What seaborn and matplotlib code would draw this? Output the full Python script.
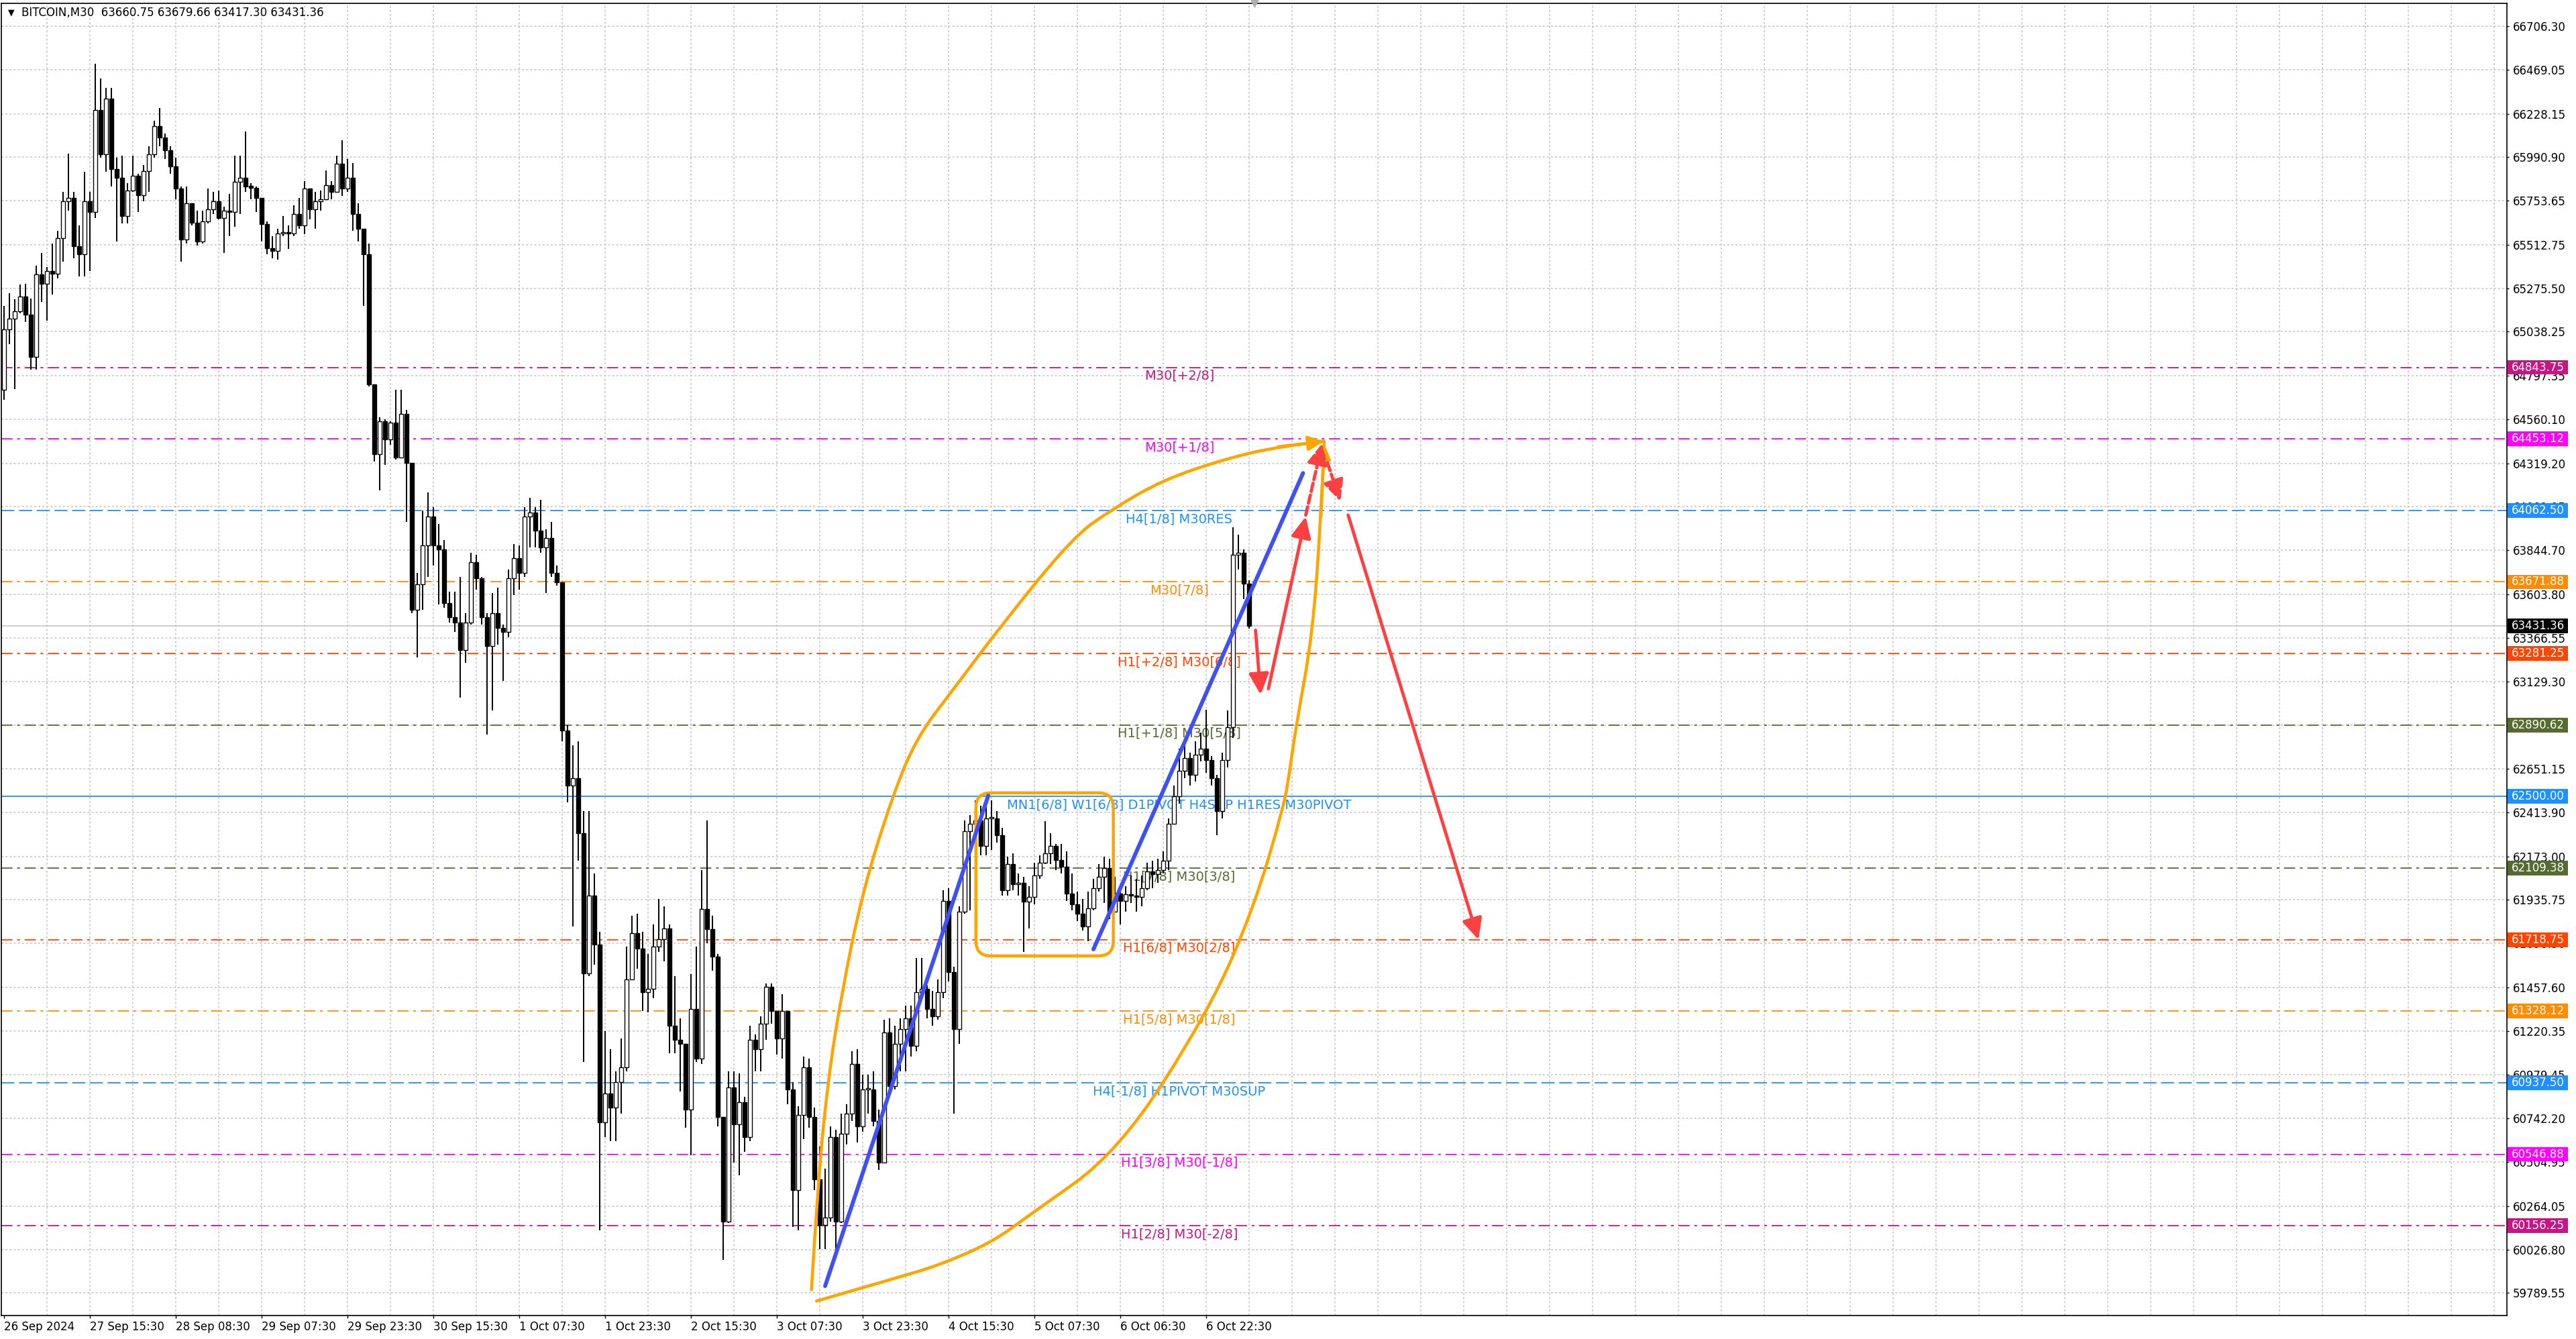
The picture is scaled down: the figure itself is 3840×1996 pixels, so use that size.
import matplotlib
matplotlib.use('Agg')
import matplotlib.pyplot as plt
import matplotlib.transforms as mtransforms
from matplotlib.patches import Rectangle, FancyBboxPatch, FancyArrowPatch, PathPatch
from matplotlib.path import Path
import seaborn as sns
import numpy as np

# --- candles, one candle per hour (two M30 bars) ---
first_open = 64720
closes = [65050, 65110, 65150, 65230, 65130, 64900, 65350, 65300, 65370, 65355,
          65550, 65750, 65770, 65505, 65460, 65750, 65690, 66250, 66005, 66310,
          65925, 65880, 65670, 65810, 65890, 65785, 65915, 66005, 66160, 66100,
          66030, 65940, 65820, 65540, 65740, 65635, 65530, 65640, 65705, 65750,
          65660, 65700, 65690, 65855, 65880, 65830, 65825, 65770, 65625, 65495,
          65480, 65575, 65580, 65575, 65680, 65620, 65820, 65705, 65750, 65760,
          65840, 65800, 65955, 65820, 65880, 65680, 65600, 65460, 64750, 64370,
          64550, 64450, 64540, 64350, 64590, 64320, 63520, 63660, 63870, 64030,
          63870, 63850, 63555, 63480, 63450, 63300, 63450, 63780, 63690, 63480,
          63320, 63500, 63420, 63400, 63690, 63800, 63720, 64030, 64050, 63950,
          63860, 63910, 63720, 63670, 62860, 62560, 62600, 62300, 61535, 61960,
          61690, 60720, 60880, 60800, 60940, 61020, 61500, 61755, 61670, 61430,
          61450, 61680, 61720, 61780, 61250, 61170, 61150, 60790, 61340, 61070,
          61885, 61775, 61625, 60750, 60180, 60910, 60710, 60830, 60640, 61170,
          61120, 61260, 61460, 61330, 61180, 61330, 60900, 60350, 60760, 61020,
          60750, 60410, 60160, 60200, 60640, 60180, 60660, 60770, 61040, 60700,
          60900, 60900, 60730, 60500, 61210, 60920, 61150, 61230, 61290, 61140,
          61430, 61450, 61340, 61300, 61430, 61930, 61540, 61230, 61870, 62310,
          62350, 62370, 62230, 62380, 62380, 62290, 61990, 62130, 62020, 62030,
          61925, 61950, 62070, 62140, 62190, 62230, 62155, 62115, 61970, 61910,
          61860, 61790, 61890, 62000, 62060, 62110, 61870, 61970, 61930, 61965,
          61960, 61950, 62000, 62090, 62075, 62100, 62150, 62350, 62500, 62640,
          62710, 62620, 62730, 62760, 62700, 62600, 62420, 62700, 62880, 63820,
          63830, 63660.75, 63431.36]
highs = [65180, 65250, 65215, 65295, 65300, 65220, 65400, 65470, 65390, 65520,
         65590, 65800, 66010, 65800, 65620, 65910, 65800, 66500, 66420, 66370,
         66370, 65990, 66000, 65850, 66000, 65900, 65950, 66050, 66190, 66260,
         66120, 66050, 65990, 65830, 65830, 65740, 65700, 65700, 65820, 65800,
         65810, 65720, 65790, 66000, 66000, 66130, 65850, 65830, 65770, 65640,
         65560, 65600, 65670, 65620, 65730, 65770, 65860, 65820, 65800, 65810,
         65920, 65860, 66000, 66085, 65980, 65960, 65740, 65600, 65520, 64750,
         64570, 64560, 64550, 64720, 64720, 64610, 64320, 63720, 64060, 64160,
         64080, 63990, 63900, 63620, 63620, 63700, 63500, 63830, 63820, 63700,
         63500, 63610, 63640, 63440, 63740, 63880, 63870, 64080, 64130, 64080,
         64120, 63960, 64000, 63760, 63670, 62890, 62780, 62800, 62420, 62420,
         62080, 61760, 61220, 61120, 61000, 61180, 61680, 61850, 61860, 61760,
         61640, 61800, 61940, 61900, 61800, 61520, 61290, 61150, 61530, 61680,
         62100, 62370, 61850, 61640, 60750, 61000, 61000, 60990, 60860, 61250,
         61200, 61300, 61480, 61480, 61330, 61420, 61330, 60940, 60810, 61080,
         61070, 60800, 60590, 60470, 60700, 60680, 60770, 60820, 61110, 61120,
         60980, 60980, 61000, 60790, 61280, 61290, 61250, 61290, 61360, 61360,
         61620, 61620, 61470, 61440, 61500, 61990, 62000, 61570, 61900, 62370,
         62400, 62480, 62450, 62450, 62480, 62420, 62330, 62170, 62190, 62080,
         62060, 62010, 62140, 62180, 62366, 62300, 62240, 62240, 62200, 62080,
         61980, 61940, 61980, 62050, 62130, 62170, 62160, 62060, 61990, 62010,
         62070, 62050, 62070, 62140, 62150, 62160, 62200, 62380, 62560, 62760,
         62800, 62740, 62800, 62850, 62975, 62720, 62620, 62740, 62970, 63970,
         63930, 63850, 63679.66]
lows = [64665, 64970, 64725, 65140, 65090, 64830, 64830, 65200, 65100, 65240,
        65330, 65420, 65700, 65440, 65340, 65340, 65370, 65660, 65990, 65910,
        65830, 65530, 65630, 65630, 65800, 65690, 65750, 65800, 65990, 66050,
        65980, 65900, 65760, 65420, 65520, 65620, 65510, 65520, 65630, 65680,
        65650, 65470, 65560, 65610, 65680, 65800, 65760, 65690, 65530, 65460,
        65440, 65430, 65560, 65490, 65560, 65600, 65570, 65650, 65600, 65700,
        65760, 65760, 65800, 65780, 65800, 65590, 65530, 65180, 64740, 64330,
        64170, 64310, 64420, 64340, 64350, 64000, 63500, 63260, 63520, 63700,
        63760, 63550, 63530, 63450, 63400, 63040, 63230, 63440, 63630, 63440,
        62840, 62970, 63330, 63130, 63370, 63600, 63630, 63700, 63860, 63860,
        63830, 63610, 63700, 63650, 62800, 62470, 61790, 62150, 61050, 61520,
        61580, 60130, 60640, 60620, 60620, 60770, 61000, 61500, 61560, 61330,
        61320, 61400, 61650, 61600, 61100, 61100, 60890, 60690, 60540, 61050,
        61040, 61700, 61550, 60700, 59970, 60170, 60500, 60430, 60560, 60620,
        61000, 61000, 61170, 61260, 61090, 61070, 60820, 60150, 60130, 60630,
        60690, 60350, 60030, 60030, 60180, 60000, 60170, 60600, 60730, 60610,
        60670, 60770, 60700, 60460, 60500, 60900, 60900, 61000, 61000, 61080,
        61110, 61400, 61290, 61250, 61280, 61400, 61490, 60770, 61150, 61860,
        61880, 62300, 62180, 62180, 62210, 62250, 61960, 61960, 61990, 61960,
        61650, 61780, 61910, 62050, 62130, 62130, 62100, 62080, 61930, 61880,
        61820, 61770, 61710, 61880, 61980, 61920, 61830, 61880, 61800, 61870,
        61920, 61870, 61900, 61990, 62000, 62030, 62080, 62100, 62350, 62460,
        62600, 62560, 62580, 62690, 62630, 62560, 62290, 62380, 62660, 62820,
        63740, 63580, 63417.30]

date_labels = ['26 Sep 2024', '27 Sep 15:30', '28 Sep 08:30', '29 Sep 07:30',
               '29 Sep 23:30', '30 Sep 15:30', '1 Oct 07:30', '1 Oct 23:30',
               '2 Oct 15:30', '3 Oct 07:30', '3 Oct 23:30', '4 Oct 15:30',
               '5 Oct 07:30', '6 Oct 06:30', '6 Oct 22:30']
price_ticks = [66706.30, 66469.05, 66228.15, 65990.90, 65753.65, 65512.75,
               65275.50, 65038.25, 64797.35, 64560.10, 64319.20, 64081.95,
               63844.70, 63603.80, 63366.55, 63129.30, 62888.40, 62651.15,
               62413.90, 62173.00, 61935.75, 61698.50, 61457.60, 61220.35,
               60979.45, 60742.20, 60504.95, 60264.05, 60026.80, 59789.55]

# Murrey math levels
levels = [64843.75, 64453.12, 64062.50, 63671.88, 63281.25, 62890.62, 62500.00,
          62109.38, 61718.75, 61328.12, 60937.50, 60546.88, 60156.25]
level_names = ['M30[+2/8]', 'M30[+1/8]', 'H4[1/8] M30RES', 'M30[7/8]',
               'H1[+2/8] M30[6/8]', 'H1[+1/8] M30[5/8]',
               'MN1[6/8] W1[6/8] D1PIVOT H4SUP H1RES M30PIVOT',
               'H1[7/8] M30[3/8]', 'H1[6/8] M30[2/8]', 'H1[5/8] M30[1/8]',
               'H4[-1/8] H1PIVOT M30SUP', 'H1[3/8] M30[-1/8]', 'H1[2/8] M30[-2/8]']
level_colors = ['#c71585', '#ff00ff', '#1e90ff', '#ff8c00', '#ff4500', '#556b2f',
                '#1e90ff', '#556b2f', '#ff4500', '#ff8c00', '#1e90ff', '#ff00ff',
                '#c71585']
level_kinds = ['dashdot', 'dashdot', 'dash', 'dashdot', 'dashdot', 'dashdot', 'solid',
               'dashdot', 'dashdot', 'dashdot', 'dash', 'dashdot', 'dashdot']
last_bar = [63660.75, 63679.66, 63417.30, 63431.36]   # O H L C shown in header

# hand drawn objects, in (M30 bar index, price)
arc_up_x = [300.9, 303.4, 307.1, 312.0, 319.9, 331.0, 340.1, 353.6, 372.0, 398.3,
            413.0, 432.0, 455.9, 474.8, 492.0]
arc_up_y = [59807, 60409, 60956, 61413, 61979, 62499, 62822, 63082, 63441, 63916,
            64069, 64230, 64347, 64410, 64440]
arc_lo_x = [302.8, 332.2, 348.7, 368.3, 381.8, 415.5, 449.1, 465.7, 477.0, 479.1,
            481.6, 487.7, 490.8, 492.0]
arc_lo_y = [59745, 59870, 59942, 60067, 60211, 60561, 61332, 61889, 62450, 62637,
            62894, 63387, 64033, 64428]
box_x = [362.2, 413.4]
box_y = [61630, 62520]
trend_a_x = [306.0, 366.8]
trend_a_y = [59827, 62505]
trend_b_x = [406.0, 484.1]
trend_b_y = [61666, 64266]
red_start_x = [466.4, 471.2, 485.1, 493.2, 500.9]
red_start_y = [63408, 63089, 64037, 64323, 64037]
red_end_x = [468.3, 485.1, 491.3, 498.0, 549.5]
red_end_y = [63056, 64029, 64430, 64111, 61718]
red_dashed = [False, False, True, True, False]
label_bar = 438
shift_bar = 466


def smooth(xs, ys):
    # quadratic bezier through the mid points of the traced polyline
    p = np.column_stack([xs, ys]).astype(float)
    verts, codes = [p[0]], [Path.MOVETO]
    for i in range(1, len(p) - 1):
        end = p[i + 1] if i == len(p) - 2 else (p[i] + p[i + 1]) / 2
        verts += [p[i], end]
        codes += [Path.CURVE3, Path.CURVE3]
    return Path(verts, codes)


# ---------------------------------------------------------------
sns.set_theme(style='white')
plt.rcParams['font.family'] = ['DejaVu Sans']
plt.rcParams['lines.scale_dashes'] = False

W, H = 3840, 1996
fig = plt.figure(figsize=(W / 100, H / 100), dpi=100)
ax = fig.add_axes([2 / W, 1 - 1961 / H, 3735 / W, 1956 / H])
ax.set_xlim(-1, 932.75)
ax.set_ylim(59666, 66831)
FS = 12

# grid
ax.hlines(price_ticks, -1, 933, colors='#c4c4c4', linestyles=(0, (2.2, 2.2)), lw=1.1, zorder=0.6)
ax.vlines(np.arange(16, 929, 16), 59666, 66831, colors='#c4c4c4',
          linestyles=(0, (2.2, 2.2)), lw=1.1, zorder=0.6)

# levels
styles = {'dashdot': (0, (12, 5, 3, 5)), 'dash': (0, (14, 5)), 'solid': '-'}
for lv, name, col, kind in zip(levels, level_names, level_colors, level_kinds):
    ax.axhline(lv, color=col, lw=1.3, linestyle=styles[kind], zorder=1)
    ax.text(label_bar, lv - 12, name, ha='center', va='top', color=col,
            fontsize=14, zorder=2)
ax.axhline(last_bar[3], color='#c0c0c0', lw=1.1, zorder=1)

# candles
c = np.array(closes, dtype=float)
o = np.r_[first_open, c[:-1]]
hi = np.array(highs, dtype=float)
lo = np.array(lows, dtype=float)
xs = np.arange(len(c)) * 2
up = c >= o
body_lo = np.minimum(o, c)
body_h = np.maximum(np.abs(c - o), 8)
ax.vlines(xs, lo, hi, color='black', lw=1.4, zorder=3)
ax.bar(xs[up], body_h[up], bottom=body_lo[up], width=1.4, color='white',
       edgecolor='black', linewidth=1.0, zorder=4)
ax.bar(xs[~up], body_h[~up], bottom=body_lo[~up], width=1.4, color='black',
       edgecolor='black', linewidth=1.0, zorder=4)

# drawn objects
orange = '#ffa500'
for xx, yy in [(arc_up_x, arc_up_y), (arc_lo_x, arc_lo_y)]:
    ax.add_patch(PathPatch(smooth(xx, yy), fill=False, edgecolor=orange, lw=3.3,
                           capstyle='round', zorder=5))
    ax.add_patch(FancyArrowPatch((xx[-2], yy[-2]), (xx[-1], yy[-1]),
                                 arrowstyle='-|>,head_length=0.7,head_width=0.32',
                                 mutation_scale=20, color=orange, lw=3.3,
                                 shrinkA=0, shrinkB=0, zorder=5))
ax.add_patch(FancyBboxPatch((box_x[0], box_y[0]), box_x[1] - box_x[0], box_y[1] - box_y[0],
                            boxstyle='round,pad=0,rounding_size=5.5', mutation_aspect=14.6,
                            fill=False, edgecolor=orange, lw=3.3, zorder=5))
blue = '#3f51f5'
sns.lineplot(x=trend_a_x, y=trend_a_y, color=blue, lw=4.3, ax=ax, zorder=5)
sns.lineplot(x=trend_b_x, y=trend_b_y, color=blue, lw=4.3, ax=ax, zorder=5)
red = '#ff4040'
for x0, y0, x1, y1, dashed in zip(red_start_x, red_start_y, red_end_x, red_end_y, red_dashed):
    ax.add_patch(FancyArrowPatch((x0, y0), (x1, y1),
                                 arrowstyle='-|>,head_length=0.95,head_width=0.45',
                                 mutation_scale=20, color=red, lw=3.5,
                                 linestyle=(0, (9, 4)) if dashed else '-',
                                 shrinkA=0, shrinkB=0, zorder=6))

# axes / ticks
for sp in ax.spines.values():
    sp.set_color('black')
    sp.set_linewidth(1.2)
ax.yaxis.tick_right()
ax.set_yticks(price_ticks)
ax.set_yticklabels([f'{p:.2f}' for p in price_ticks])
ax.set_xticks(np.arange(len(date_labels)) * 32)
ax.set_xticklabels(date_labels, ha='left')
ax.tick_params(axis='y', right=True, length=2.5, width=1, pad=4, labelsize=FS, colors='black')
ax.tick_params(axis='x', bottom=True, length=3, width=1, pad=3, labelsize=FS, colors='black')
ax.grid(False)

# coloured price tags on the scale
trans = mtransforms.blended_transform_factory(ax.transAxes, ax.transData)
tag_vals = levels + [last_bar[3]]
tag_cols = level_colors + ['black']
for v, col in zip(tag_vals, tag_cols):
    ax.add_patch(Rectangle((1.0003, v - 40), 0.0241, 80, transform=trans, facecolor=col,
                           edgecolor='none', clip_on=False, zorder=7))
    ax.text(1.0125, v, f'{v:.2f}', transform=trans, ha='center', va='center',
            color='white', fontsize=FS, zorder=8, clip_on=False)

# chart shift marker and header
ax.scatter([shift_bar], [66831], marker='v', s=60, color='#b0b0b0', clip_on=False, zorder=7)
fig.text(12 / W, 1 - 19 / H, '▼', fontsize=9, va='center', ha='left', color='black')
fig.text(32 / W, 1 - 19 / H, 'BITCOIN,M30  ' + ' '.join(f'{v:.2f}' for v in last_bar),
         fontsize=FS, va='center', ha='left', color='black')

fig.savefig('out.png', dpi=100, facecolor='white')
